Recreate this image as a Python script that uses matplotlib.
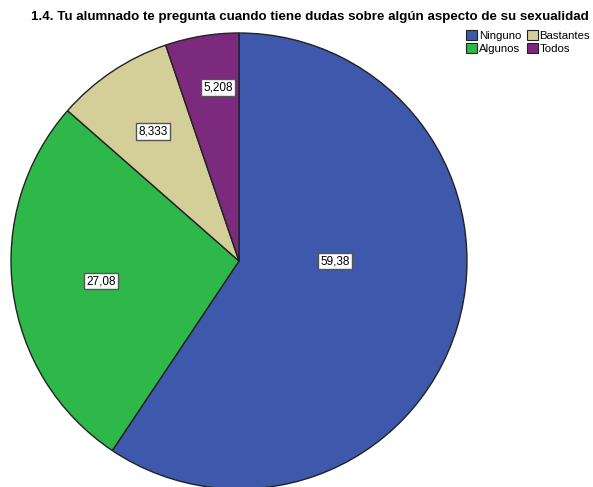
import matplotlib
matplotlib.use("Agg")
import matplotlib.pyplot as plt
import numpy as np
from matplotlib.patches import Patch

plt.rcParams["font.family"] = ["Liberation Sans", "DejaVu Sans"]

TITLE = "1.4. Tu alumnado te pregunta cuando tiene dudas sobre algún aspecto de su sexualidad"
categories = ["Ninguno", "Algunos", "Bastantes", "Todos"]
values = [59.38, 27.08, 8.333, 5.208]
value_labels = ["59,38", "27,08", "8,333", "5,208"]
colors = ["#3e58ab", "#2fb84a", "#d4ce98", "#7b2a7e"]

# label anchors, (distance from centre in radii, angle in degrees)
label_polar = [(0.42, 0.0), (0.61, -171.7), (0.68, 123.5), (0.765, 96.9)]

W, H = 593, 487
fig = plt.figure(figsize=(W / 100, H / 100), dpi=100)

# pie area in pixels: centre (239, 261), radius 228
cx, cy, r = 239, 261, 228
ax = fig.add_axes([(cx - r) / W, (H - cy - r) / H, 2 * r / W, 2 * r / H])
ax.pie(values, colors=colors, startangle=90, counterclock=False, radius=1,
       wedgeprops=dict(edgecolor="#222222", linewidth=1.0))
ax.set_xlim(-1, 1)
ax.set_ylim(-1, 1)
ax.set_aspect("equal")
ax.axis("off")

for txt, (d, ang) in zip(value_labels, label_polar):
    a = np.deg2rad(ang)
    ax.text(d * np.cos(a), d * np.sin(a), txt, ha="center", va="center",
            fontsize=8.5, color="black",
            bbox=dict(boxstyle="square,pad=0.2", facecolor="white",
                      edgecolor="#555555", linewidth=1.0))

fig.text(589 / W, 1 - 17 / H, TITLE, ha="right", va="center",
         fontsize=9.6, fontweight="bold")

# legend laid out as two columns: Ninguno/Algunos, Bastantes/Todos
handles = [Patch(facecolor=c, edgecolor="#222222", linewidth=0.8) for c in colors]
leg = fig.legend(handles, categories, ncol=2,
                 loc="upper right", bbox_to_anchor=(591 / W, 1 - 29 / H),
                 frameon=False, fontsize=8.2, handlelength=0.95, handleheight=1.0,
                 handletextpad=0.15, columnspacing=0.5, labelspacing=0.15,
                 borderpad=0.1, borderaxespad=0)

fig.savefig("out.png", dpi=100)
